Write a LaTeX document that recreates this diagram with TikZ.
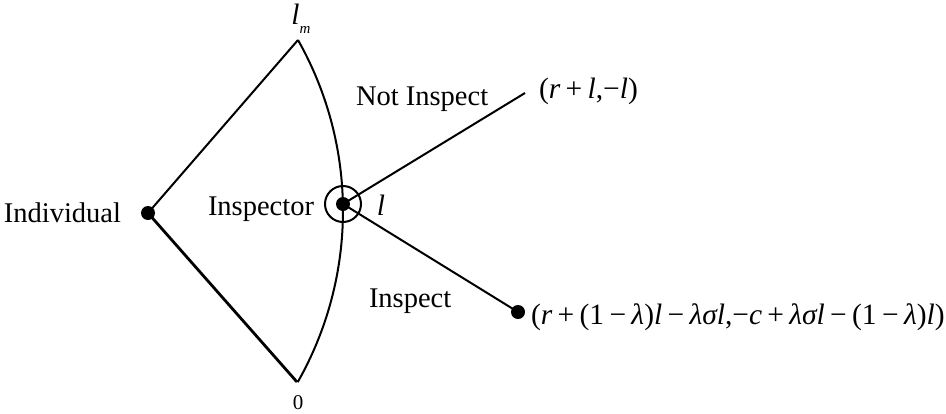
\documentclass[tikz,border=0pt]{standalone}
\usepackage{fontspec}
\setmainfont{Liberation Serif}
\newcommand\vv[1]{\textit{#1}}
\newcommand\bop[1]{\hspace{0.18em}#1\hspace{0.18em}}
\begin{document}
\begin{tikzpicture}[x=1pt,y=-1pt, line width=2pt,
  lbl/.style={font=\fontsize{28.5}{32}\selectfont, inner sep=0pt},
  mth/.style={font=\fontsize{29.5}{34}\selectfont, inner sep=0pt},
  dotnode/.style={circle, fill, inner sep=0pt, minimum size=14pt},
  ringnode/.style={circle, draw, inner sep=0pt, minimum size=36pt}]
\useasboundingbox (0,0) rectangle (946,413);
\coordinate (top) at (298,40);
\coordinate (bot) at (297,382);
\coordinate (ni) at (525,93);
\node[dotnode] (ind) at (148,213) {};
\node[dotnode] (insp) at (343,204) {};
\node[ringnode] (ring) at (343,204) {};
\node[dotnode] (ie) at (518,312) {};
\draw (ind.center) -- (top);
\draw[line width=2.8pt] (ind.center) -- (bot);
\draw (top) arc[start angle=29.5, end angle=-29.6, radius=346.9pt];
\draw (insp.center) -- (ni);
\draw (insp.center) -- (ie.center);
\node[lbl, anchor=base east] (indl) at (122,222) {Individual};
\node[lbl, anchor=base west] (inspl) at (207,215) {Inspector};
\node[lbl, anchor=base west] (nil) at (355,105) {Not Inspect};
\node[lbl, anchor=base west] (il) at (368,307) {Inspect};
\node[mth] (ll) at (381,205) {\vv{l}};
\node[mth] (lm) at (301,19) {\vv{l}\raisebox{-0.3em}{\fontsize{15}{18}\selectfont\vv{m}}};
\node[font=\fontsize{21}{24}\selectfont, inner sep=0pt, anchor=base] (zero) at (298,409) {0};
\node[mth, anchor=west] (pay1) at (538,91) {(\vv{r}\bop{+}\vv{l},−\vv{l})};
\node[mth, anchor=west] (pay2) at (530,317) {(\vv{r}\bop{+}(1\bop{−}\vv{λ})\vv{l}\bop{−}\vv{λσl},−\vv{c}\bop{+}\vv{λσl}\bop{−}(1\bop{−}\vv{λ})\vv{l})};
\end{tikzpicture}
\end{document}
